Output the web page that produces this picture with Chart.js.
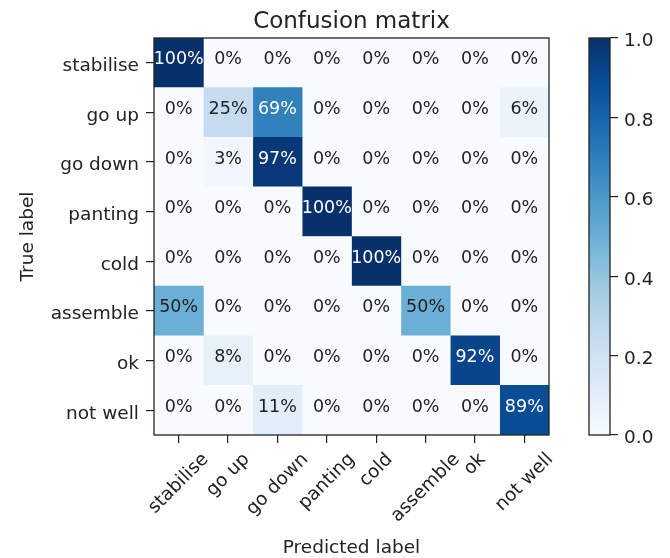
<!DOCTYPE html>
<html>
<head>
<meta charset="utf-8">
<script src="https://cdn.jsdelivr.net/npm/chart.js@4/dist/chart.umd.min.js"></script>
<style>
  html, body { margin: 0; padding: 0; background: #fff; }
  #wrap { position: relative; width: 670px; height: 558px; overflow: hidden; }
  #cm { position: absolute; left: 0; top: 0; }
  #cb { position: absolute; left: 570px; top: 0; }
</style>
</head>
<body>
<div id="wrap">
  <canvas id="cm" width="570" height="558"></canvas>
  <canvas id="cb" width="100" height="558"></canvas>
</div>
<script>
// Class names (rows = true label, columns = predicted label)
const classLabels = ['stabilise', 'go up', 'go down', 'panting', 'cold', 'assemble', 'ok', 'not well'];

// Row-normalised confusion matrix, in percent
const rowStabilise = [100, 0, 0, 0, 0, 0, 0, 0];
const rowGoUp      = [0, 25, 69, 0, 0, 0, 0, 6];
const rowGoDown    = [0, 3, 97, 0, 0, 0, 0, 0];
const rowPanting   = [0, 0, 0, 100, 0, 0, 0, 0];
const rowCold      = [0, 0, 0, 0, 100, 0, 0, 0];
const rowAssemble  = [50, 0, 0, 0, 0, 50, 0, 0];
const rowOk        = [0, 8, 0, 0, 0, 0, 92, 0];
const rowNotWell   = [0, 0, 11, 0, 0, 0, 0, 89];

// Colour bar tick values
const colorbarTicks = [0, 0.2, 0.4, 0.6, 0.8, 1.0];

const titleText = 'Confusion matrix';
const xTitleText = 'Predicted label';
const yTitleText = 'True label';

const matrix = [rowStabilise, rowGoUp, rowGoDown, rowPanting, rowCold, rowAssemble, rowOk, rowNotWell];

const FONT = '"DejaVu Sans", "Liberation Sans", sans-serif';
const TEXT = '#222';

// "Blues" sequential colormap
const BLUES = ['#f7fbff', '#deebf7', '#c6dbef', '#9ecae1', '#6baed6', '#4292c6', '#2171b5', '#08519c', '#08306b'];
function hexRgb(h) { return [1, 3, 5].map(k => parseInt(h.slice(k, k + 2), 16)); }
function blues(v) {
  v = Math.max(0, Math.min(1, v));
  const pos = v * (BLUES.length - 1);
  const i = Math.min(Math.floor(pos), BLUES.length - 2);
  const t = pos - i;
  const a = hexRgb(BLUES[i]), b = hexRgb(BLUES[i + 1]);
  const c = a.map((x, k) => Math.round(x + (b[k] - x) * t));
  return `rgb(${c[0]},${c[1]},${c[2]})`;
}

// One floating-bar dataset per predicted column; each bar spans one cell
const datasets = classLabels.map((_, j) => ({
  label: classLabels[j],
  data: classLabels.map(() => [j - 0.5, j + 0.5]),
  backgroundColor: matrix.map(row => blues(row[j] / 100)),
  borderWidth: 0,
  grouped: false,
  barPercentage: 1,
  categoryPercentage: 1
}));

const cellText = {
  id: 'cellText',
  afterDatasetsDraw(chart) {
    const ctx = chart.ctx;
    ctx.save();
    ctx.font = `17.5px ${FONT}`;
    ctx.textAlign = 'center';
    ctx.textBaseline = 'middle';
    chart.data.datasets.forEach((ds, j) => {
      chart.getDatasetMeta(j).data.forEach((el, i) => {
        const v = matrix[i][j];
        const p = el.getCenterPoint();
        ctx.fillStyle = v / 100 > 0.5 ? '#fff' : TEXT;
        ctx.fillText(v + '%', p.x, p.y - 3);
      });
    });
    ctx.restore();
  }
};

const frameAndLabels = {
  id: 'frameAndLabels',
  afterDraw(chart) {
    const ctx = chart.ctx;
    const a = chart.chartArea;
    const xs = chart.scales.x;
    ctx.save();
    // axes frame
    ctx.strokeStyle = '#222';
    ctx.lineWidth = 1.3;
    ctx.strokeRect(a.left, a.top, a.right - a.left, a.bottom - a.top);

    // rotated x tick labels, bounding box centred under each tick
    const fs = 18.5;
    ctx.font = `${fs}px ${FONT}`;
    ctx.fillStyle = TEXT;
    ctx.textAlign = 'center';
    ctx.textBaseline = 'middle';
    const h = fs * 1.16;
    const y0 = a.bottom + 8 + 6;
    classLabels.forEach((lab, j) => {
      const w = ctx.measureText(lab).width;
      const boxH = (w + h) * Math.SQRT1_2;
      const cx = xs.getPixelForValue(j);
      const cy = y0 + boxH / 2;
      ctx.save();
      ctx.translate(cx, cy);
      ctx.rotate(-Math.PI / 4);
      ctx.fillText(lab, 0, 0);
      ctx.restore();
    });

    // axis titles
    ctx.textBaseline = 'alphabetic';
    ctx.fillText(xTitleText, (a.left + a.right) / 2, 553);
    ctx.save();
    ctx.translate(33, (a.top + a.bottom) / 2);
    ctx.rotate(-Math.PI / 2);
    ctx.fillText(yTitleText, 0, 0);
    ctx.restore();

    // chart title
    ctx.font = `23px ${FONT}`;
    ctx.fillText(titleText, (a.left + a.right) / 2, 28);
    ctx.restore();
  }
};

new Chart(document.getElementById('cm'), {
  type: 'bar',
  data: { labels: classLabels, datasets },
  options: {
    indexAxis: 'y',
    responsive: false,
    devicePixelRatio: 1,
    animation: false,
    layout: { padding: { top: 38, right: 21, bottom: 0, left: 0 } },
    plugins: { legend: { display: false }, tooltip: { enabled: false }, title: { display: false } },
    scales: {
      x: {
        type: 'linear',
        min: -0.5,
        max: 7.5,
        afterBuildTicks(scale) { scale.ticks = classLabels.map((_, j) => ({ value: j })); },
        afterFit(scale) { scale.height = 123; },
        ticks: { display: false },
        grid: { drawOnChartArea: false, drawTicks: true, tickLength: 8, color: '#222', lineWidth: 1.2 },
        border: { display: false }
      },
      y: {
        type: 'category',
        afterFit(scale) { scale.width = 154; },
        ticks: { font: { family: FONT, size: 18.5 }, color: TEXT, padding: 7, labelOffset: 3.5 },
        grid: { offset: false, drawOnChartArea: false, drawTicks: true, tickLength: 8, color: '#222', lineWidth: 1.2 },
        border: { display: false }
      }
    }
  },
  plugins: [cellText, frameAndLabels]
});

// Colour bar: a single floating bar from 0 to 1 filled with the colormap
const cbOutline = {
  id: 'cbOutline',
  afterDraw(chart) {
    const a = chart.chartArea;
    const ctx = chart.ctx;
    ctx.save();
    ctx.strokeStyle = '#222';
    ctx.lineWidth = 1.3;
    ctx.strokeRect(a.left, a.top, a.right - a.left, a.bottom - a.top);
    ctx.restore();
  }
};

new Chart(document.getElementById('cb'), {
  type: 'bar',
  data: {
    labels: [''],
    datasets: [{
      data: [[0, 1]],
      borderWidth: 0,
      barPercentage: 1,
      categoryPercentage: 1,
      backgroundColor(c) {
        const chart = c.chart;
        const ys = chart.scales.y;
        if (!chart.chartArea || !ys) return blues(0.5);
        const g = chart.ctx.createLinearGradient(0, ys.getPixelForValue(0), 0, ys.getPixelForValue(1));
        BLUES.forEach((col, k) => g.addColorStop(k / (BLUES.length - 1), col));
        return g;
      }
    }]
  },
  options: {
    responsive: false,
    devicePixelRatio: 1,
    animation: false,
    layout: { padding: { top: 38, right: 0, bottom: 123, left: 19 } },
    plugins: { legend: { display: false }, tooltip: { enabled: false } },
    scales: {
      x: { display: false },
      y: {
        position: 'right',
        min: 0,
        max: 1,
        afterBuildTicks(scale) { scale.ticks = colorbarTicks.map(v => ({ value: v })); },
        afterFit(scale) { scale.width = 60; },
        ticks: { font: { family: FONT, size: 18.5 }, color: TEXT, padding: 6, labelOffset: 3.5, callback: v => Number(v).toFixed(1) },
        grid: { drawOnChartArea: false, drawTicks: true, tickLength: 8, color: '#222', lineWidth: 1.2 },
        border: { display: false }
      }
    }
  },
  plugins: [cbOutline]
});
</script>
</body>
</html>
